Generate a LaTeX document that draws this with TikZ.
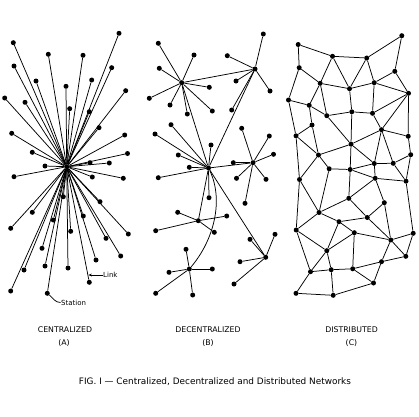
\documentclass[tikz,border=0pt]{standalone}
\usepackage{fontspec}
\setmainfont{DejaVu Sans}
\usetikzlibrary{arrows.meta}
\begin{document}
\begin{tikzpicture}[x=1pt,y=-1pt,
  dot/.style={circle,fill=black,inner sep=0pt,minimum size=5pt},
  link/.style={line width=0.75pt},
  lbl/.style={font=\fontsize{7.8}{9}\selectfont, inner sep=0pt},
  note/.style={font=\fontsize{7}{8}\selectfont, inner sep=0.5pt},
  figcaption/.style={font=\fontsize{8.9}{10}\selectfont, inner sep=0pt}]
\fill[white] (0,0) rectangle (419,416);
\useasboundingbox (0,0) rectangle (419,416);

% ---------------- (A) centralized ----------------
\node[dot] (hubA) at (66.7,166.7) {};
\foreach \n/\x/\y in {
 1/13.3/42.7, 2/119/33.3, 3/48.3/54.3, 4/83/55.3, 5/14/66, 6/111.7/67.7,
 7/36/81, 8/91.7/80, 9/66/86.3, 10/4.7/98, 11/125.7/90.7, 12/25/102.3,
 13/69.7/108.7, 14/89.3/111.7, 15/99/127.7, 16/11.7/133.3, 17/124.7/135,
 18/32.3/152.3, 19/127.5/153.5, 20/45/166, 21/90/162.7, 22/109.3/163,
 23/14/176.7, 24/92.3/177, 25/123.3/178.3, 26/63.3/196.7, 27/100/201.7,
 28/32.3/212.3, 29/53.3/220, 30/83.3/216, 31/10.7/228.3, 32/70.7/231.3,
 33/128.3/234, 34/106/238.3, 35/42/248.3, 36/120.7/256, 37/96/260,
 38/45/266, 39/24/270, 40/68/268, 41/89.3/282.3, 42/10.7/291, 43/47.3/293.3}
 {\node[dot] (a\n) at (\x,\y) {};
  \draw[link] (hubA) -- (a\n);}

\node[note, anchor=west] (linklbl) at (102.5,275) {Link};
\coordinate (linkpt) at (88.4,275);
\draw[link,-{Stealth[length=3.5pt,width=2.8pt]}] (linklbl.west) -- (linkpt);
\node[note, anchor=west] (stlbl) at (60.5,302.5) {Station};
\draw[link] (stlbl.west) .. controls (55,302.5) and (53,298) .. (a43);

% ---------------- (B) decentralized ----------------
\node[dot] (B1) at (181.7,82.7) {};
\node[dot] (B2) at (255,69) {};
\node[dot] (B3) at (208.5,168) {};
\node[dot] (B4) at (253,162.7) {};
\node[dot] (B5) at (198.3,220.7) {};
\node[dot] (B6) at (265.7,257.3) {};
\node[dot] (B7) at (189.3,269) {};
\draw[link] (B1) -- (B2);
\draw[link] (B1) -- (B3);
\draw[link] (B2) -- (B3);
\draw[link] (B3) -- (B4);
\draw[link] (B3) -- (B5);
\draw[link] (B3) -- (B6);
\draw[link] (B3) .. controls (224,200) and (214,240) .. (B7);
\foreach \n/\h/\x/\y in {
 1/B1/158.3/43.3, 2/B1/194/55, 3/B1/159.3/68.3, 4/B1/209.3/87.3,
 5/B1/149.3/98.3, 6/B1/170/105, 7/B1/212.3/111, 8/B1/187.3/114,
 9/B2/263.3/34, 10/B2/227.3/55.7, 11/B2/236/81, 12/B2/270/91, 13/B2/231.7/110,
 14/B3/171/124.7, 15/B3/155/134, 16/B3/211/145, 17/B3/178.3/155,
 18/B3/189.3/167.3, 19/B3/158.3/177.7, 20/B3/209/197.7,
 21/B4/233.3/162.7, 22/B4/241.7/128.3, 23/B4/269.3/136, 24/B4/273.5/154.3,
 25/B4/236.5/178.3, 26/B4/266/179.3, 27/B4/245/203.3,
 28/B5/177.7/212.3, 29/B5/226.7/216, 30/B5/155.7/230.7, 31/B5/214.3/232.3,
 32/B6/250/239.3, 33/B6/275/234.3, 34/B6/240/261.7, 35/B6/234/284,
 36/B7/186/249.3, 37/B7/169/272.3, 38/B7/212.3/269, 39/B7/155.7/293.3, 40/B7/192.7/295}
 {\node[dot] (b\n) at (\x,\y) {};
  \draw[link] (\h) -- (b\n);}

% ---------------- (C) distributed ----------------
\foreach \n/\x/\y in {
 1/298.2/44.5, 2/401.8/35.7, 3/332.5/56.3, 4/366.7/58, 5/299.2/67.7,
 6/394.8/71.3, 7/320.2/83.3, 8/374.2/82.7, 9/349.5/88.7, 10/288.5/100,
 11/408.5/93.3, 12/309.2/105.3, 13/351.8/111.8, 14/372.5/113.3, 15/326.8/115.7,
 16/312/125, 17/381.5/129.7, 18/296/135.8, 19/408.2/136.3, 20/351/144.2,
 21/318.5/155, 22/410.7/154.7, 23/329.2/168.8, 24/350.2/169.5, 25/374.3/163.5,
 26/393.2/163.3, 27/299.5/179.5, 28/375.2/178.3, 29/406/181.2, 30/348.8/198.3,
 31/384.3/202.7, 32/319/212.5, 33/339/221.7, 34/367.3/217.5, 35/296.2/230,
 36/354.3/232.7, 37/390.8/240, 38/413.2/233.3, 39/326.8/250.7, 40/405.8/256.3,
 41/381.5/261.7, 42/310.5/271.7, 43/331.2/269.7, 44/352.7/268.8, 45/373.5/283,
 46/296/293.3, 47/333.2/295.3}
 {\node[dot] (c\n) at (\x,\y) {};}
\foreach \u/\v in {
 1/3, 1/5, 3/4, 4/2, 2/6, 3/7, 3/9, 4/9, 4/8, 6/8, 6/11, 5/7, 5/10, 7/9, 9/8,
 7/12, 7/15, 9/13, 8/14, 8/11, 11/14, 11/17, 11/19, 10/12, 12/15, 15/13, 13/14,
 10/18, 12/16, 15/20, 13/20, 14/17, 16/18, 16/21, 18/21, 18/27, 20/21, 17/20,
 17/19, 20/24, 20/25, 17/25, 17/26, 19/22, 22/26, 22/29, 21/23, 21/27, 23/24,
 24/25, 25/26, 23/32, 24/30, 24/28, 25/28, 28/29, 26/29, 27/35, 27/32,
 28/31, 28/30, 29/38, 30/32, 30/34, 32/33, 33/34, 31/34, 31/37, 34/37, 33/39,
 35/32, 35/39, 35/42, 36/39, 36/44, 36/37, 33/36, 37/38, 37/41, 37/40, 38/40,
 40/41, 41/44, 41/45, 39/42, 39/43, 42/43, 43/44, 44/45, 42/46, 43/47, 46/47, 47/45}
 {\draw[link] (c\u) -- (c\v);}

% ---------------- labels ----------------
\node[lbl] (tA) at (65,330) {CENTRALIZED};
\node[lbl] (tA2) at (64,343.3) {(A)};
\node[lbl] (tB) at (208,330) {DECENTRALIZED};
\node[lbl] (tB2) at (208,343.3) {(B)};
\node[lbl] (tC) at (351.5,330) {DISTRIBUTED};
\node[lbl] (tC2) at (351.5,343.3) {(C)};
\node[figcaption] (fig) at (215,381.5) {FIG. I — Centralized, Decentralized and Distributed Networks};
\end{tikzpicture}
\end{document}
